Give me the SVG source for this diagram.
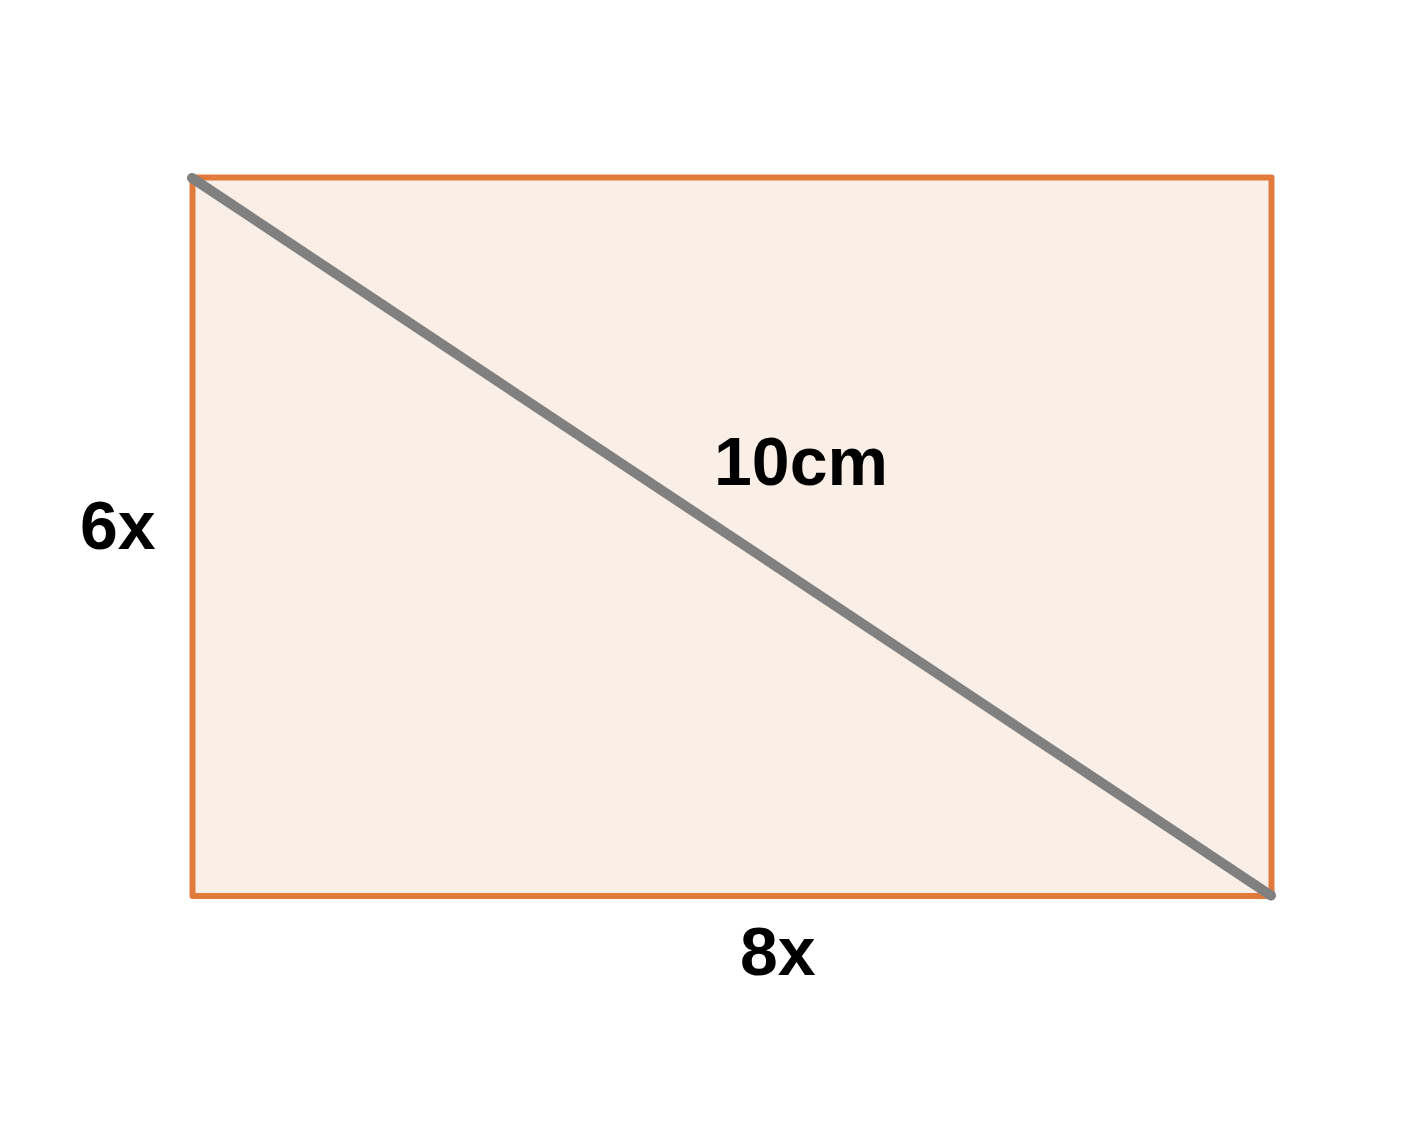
<svg xmlns="http://www.w3.org/2000/svg" width="1425" height="1143" viewBox="0 0 1425 1143">
<style>
.lbl{font-family:"Liberation Sans",Arial,sans-serif;font-weight:bold;font-size:68px;fill:#000}
</style>
<rect width="1425" height="1143" fill="#fff"/>
<g id="rectangle">
<rect x="192.5" y="177.5" width="1079" height="718.5" fill="#F9EFE7" stroke="#E07B3C" stroke-width="6" stroke-linejoin="round"/>
</g>
<g id="connectors">
<line x1="192" y1="178" x2="1271" y2="895.5" stroke="#808080" stroke-width="10" stroke-linecap="round"/>
</g>
<g id="label-10cm"><text class="lbl" x="714" y="485">10cm</text></g>
<g id="label-6x"><text class="lbl" x="80" y="549">6x</text></g>
<g id="label-8x"><text class="lbl" x="740" y="975">8x</text></g>
</svg>
